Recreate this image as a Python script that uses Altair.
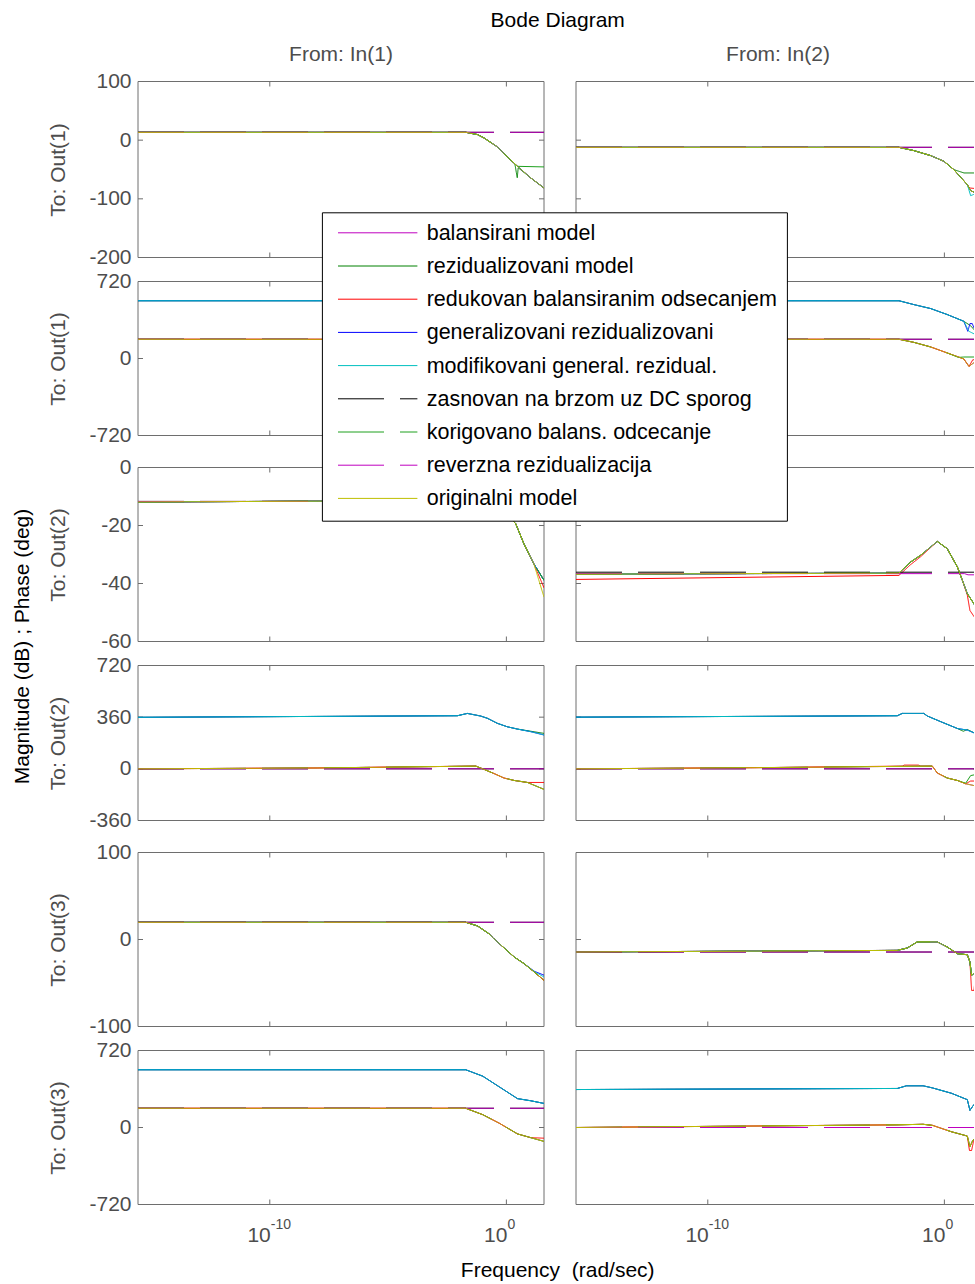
import altair as alt
import pandas as pd

FONT = "Liberation Sans"
GRAY = "#4D4D4D"
FRAME = "#6E6E6E"

NAMES = ["balansirani model", "rezidualizovani model", "redukovan balansiranim odsecanjem",
         "generalizovani rezidualizovani", "modifikovani general. rezidual.",
         "zasnovan na brzom uz DC sporog", "korigovano balans. odcecanje",
         "reverzna rezidualizacija", "originalni model"]
KEYS = ["BAL", "REZ", "RED", "GEN", "MOD", "ZAS", "KOR", "REV", "ORI"]
COLORS = ["#BF00BF", "#008000", "#FF0000", "#0000FF", "#00BFBF",
          "#000000", "#1FA01F", "#BF00BF", "#BFBF00"]
DASHES = [[1, 0]] * 5 + [[46, 16]] * 3 + [[1, 0]]

LW_MIN = -15.57
LW_MAX = 1.59
W1 = 406
W2 = 398
PX_DEC = W1 / (LW_MAX - LW_MIN)
LW_MAX2 = LW_MIN + W2 / PX_DEC

XT_W = [1e-10, 1.0]
XT_EXP = ["-10", "0"]

# ---- Out(1) magnitude ----
M11_ORI = [(-15.57, 13.4), (-1.71, 13.4), (-1.22, 9.5), (-0.95, 3.9), (-0.38, -11.5), (0.04, -28.6),
           (0.47, -44.6), (1.03, -64.4), (1.59, -81.5)]
M11_REZ = [(-15.57, 13.4), (-1.71, 13.4), (-1.22, 9.5), (-0.95, 3.9), (-0.38, -11.5), (0.04, -28.6),
           (0.36, -40.5), (0.42, -55.0), (0.46, -64.0), (0.50, -47.0), (1.03, -64.4), (1.59, -81.5)]
M11_KOR = [(-15.57, 13.4), (-1.71, 13.4), (-1.22, 9.5), (-0.95, 3.9), (-0.38, -11.5), (0.04, -28.6),
           (0.47, -44.6), (1.59, -45.6)]
M11_DC = 13.4

M12_ORI = [(-15.57, -12.2), (-1.92, -12.2), (-1.29, -17.8), (-0.58, -26.3), (-0.02, -36.0), (0.40, -50.2),
           (0.97, -75.9), (1.11, -86.0), (1.32, -90.0)]
M12_MOD = [(-15.57, -12.2), (-1.92, -12.2), (-1.29, -17.8), (-0.58, -26.3), (-0.02, -36.0), (0.40, -50.2),
           (0.97, -75.9), (1.11, -94.6), (1.32, -91.2)]
M12_REZ = [(-15.57, -12.2), (-1.92, -12.2), (-1.29, -17.8), (-0.58, -26.3), (-0.02, -36.0), (0.40, -50.2),
           (0.83, -55.9), (1.32, -55.9)]
M12_RED = [(-15.57, -12.2), (-1.92, -12.2), (-1.29, -17.8), (-0.58, -26.3), (-0.02, -36.0), (0.40, -50.2),
           (0.97, -75.9), (1.06, -81.5), (1.32, -82.5)]
M12_DC = -12.2

# ---- Out(1) phase ----
P21_LOW = [(-15.57, 180), (-1.71, 180), (-1.0, 140), (-0.3, 90), (0.4, 20), (1.0, -40), (1.59, -90)]
P21_UP = [(-15.57, 540), (-1.71, 540), (-1.0, 500), (-0.3, 450), (0.4, 380), (1.0, 320), (1.59, 270)]
P21_DC = 180

P22_LOW = [(-15.57, 180), (-1.92, 180), (-1.29, 151), (-0.58, 108), (0.12, 52), (0.82, -4), (1.04, -74), (1.32, -27)]
P22_UP = [(-15.57, 540), (-1.92, 540), (-1.29, 504), (-0.58, 467), (0.12, 411), (0.82, 348), (1.04, 254), (1.32, 223)]
P22_GEN = [(-15.57, 540), (-1.92, 540), (-1.29, 504), (-0.58, 467), (0.12, 411), (0.82, 348), (0.99, 254),
           (1.08, 326), (1.18, 326), (1.25, 286), (1.32, 270)]
P22_REZ = [(-15.57, 540), (-1.92, 540), (-1.29, 504), (-0.58, 467), (0.12, 411), (0.82, 348), (1.11, 306), (1.32, 254)]
P22_KOR = [(-15.57, 180), (-1.92, 180), (-1.29, 151), (-0.58, 108), (0.12, 52), (0.6, 10), (0.82, 14), (1.32, 14)]
P22_RED = [(-15.57, 180), (-1.92, 180), (-1.29, 151), (-0.58, 108), (0.12, 52), (0.82, -4), (1.04, -74),
           (1.20, -12), (1.32, -12)]
P22_DC = 180

# ---- Out(2) magnitude ----
M31_ORI = [(-15.57, -11.9), (-8.0, -11.6), (-1.5, -11.4), (-1.0, -12.0), (-0.3, -14.5), (0.1, -17.0),
           (0.39, -19.3), (0.74, -26.3), (1.16, -33.2), (1.59, -44.7)]
M31_BASE = [(-15.57, -11.9), (-8.0, -11.6), (-1.5, -11.4), (-1.0, -12.0), (-0.3, -14.5), (0.1, -17.0),
            (0.39, -19.3), (0.74, -26.3), (1.16, -33.2), (1.59, -38.9)]
M31_RED = [(-15.57, -11.9), (-8.0, -11.6), (-1.5, -11.4), (-1.0, -12.0), (-0.3, -14.5), (0.1, -17.0),
           (0.39, -19.3), (0.74, -26.3), (1.16, -33.2), (1.59, -41.5)]
M31_DC = -11.7

M32_ORI = [(-15.57, -36.8), (-1.92, -36.4), (-1.43, -32.6), (-1.01, -30.3), (-0.30, -25.5), (0.12, -28.0),
           (0.55, -34.3), (0.76, -38.9), (0.97, -43.5), (1.25, -47.0), (1.32, -48.0)]
M32_RED = [(-15.57, -38.6), (-1.92, -37.2), (-1.43, -33.5), (-1.01, -30.8), (-0.30, -25.5), (0.12, -28.0),
           (0.55, -34.3), (0.76, -38.9), (0.97, -44.0), (1.08, -49.3), (1.32, -52.2)]
M32_ZAS = [(-15.57, -36.1), (1.59, -36.1)]
M32_REV = [(-15.57, -36.6), (0.85, -36.6), (1.0, -37.0), (1.32, -37.0)]

# ---- Out(2) phase ----
P41_LOW = [(-15.57, 0), (-8.0, 6), (-1.9, 18), (-1.29, 19), (-0.94, -4), (-0.52, -33), (-0.10, -64),
           (0.33, -81), (0.89, -95), (1.59, -143)]
P41_UP = [(-15.57, 359), (-2.07, 370), (-1.65, 386), (-1.09, 368), (-0.80, 352), (-0.38, 317), (0.04, 293),
          (0.47, 277), (1.03, 259), (1.59, 236)]
P41_REZ = [(-15.57, 359), (-2.07, 370), (-1.65, 386), (-1.09, 368), (-0.80, 352), (-0.38, 317), (0.04, 293),
           (0.47, 277), (1.03, 262), (1.59, 247)]
P41_RED = [(-15.57, 0), (-8.0, 6), (-1.9, 18), (-1.29, 19), (-0.94, -4), (-0.52, -33), (-0.10, -64),
           (0.33, -81), (0.89, -95), (1.59, -95)]
P41_DC = 0

P42_LOW = [(-15.57, 0), (-8.0, 8), (-0.58, 19), (-0.51, 19), (-0.30, -29), (0.12, -64), (0.55, -81),
           (0.90, -104), (1.32, -119)]
P42_UP = [(-15.57, 360), (-1.99, 370), (-1.78, 386), (-0.87, 386), (-0.72, 368), (-0.16, 329), (0.55, 281),
          (0.97, 270), (1.32, 246)]
P42_REZ = [(-15.57, 360), (-1.99, 370), (-1.78, 386), (-0.87, 386), (-0.72, 368), (-0.16, 329), (0.55, 281),
           (0.80, 262), (0.97, 274), (1.32, 246)]
P42_RED = [(-15.57, 0), (-8.0, 8), (-1.78, 19), (-1.70, 26), (-1.10, 26), (-1.0, 19), (-0.51, 19), (-0.30, -29),
           (0.12, -64), (0.55, -81), (0.90, -104), (1.11, -85), (1.32, -85)]
P42_KOR = [(-15.57, 0), (-8.0, 8), (-0.58, 19), (-0.51, 19), (-0.30, -29), (0.12, -64), (0.55, -81),
           (0.90, -100), (1.11, -47), (1.32, -40)]
P42_REV = [(-15.57, 0), (1.20, 0), (1.32, -10)]
P42_DC = 0

# ---- Out(3) magnitude ----
M51_ORI = [(-15.57, 19.8), (-1.72, 19.8), (-1.22, 15.6), (-0.74, 6.7), (-0.38, -2.8), (0.33, -20.1),
           (0.75, -27.8), (1.18, -37.4), (1.59, -47.0)]
M51_GEN = [(-15.57, 19.8), (-1.72, 19.8), (-1.22, 15.6), (-0.74, 6.7), (-0.38, -2.8), (0.33, -20.1),
           (0.75, -27.8), (1.18, -36.5), (1.59, -41.0)]
M51_MOD = [(-15.57, 19.8), (-1.72, 19.8), (-1.22, 15.6), (-0.74, 6.7), (-0.38, -2.8), (0.33, -20.1),
           (0.75, -27.8), (1.18, -37.0), (1.59, -43.0)]
M51_DC = 19.8

M52_ORI = [(-15.57, -14.4), (-1.99, -12.5), (-1.57, -9.8), (-1.15, -2.8), (-0.30, -2.8), (0.12, -8.6),
           (0.55, -16.3), (0.97, -17.5), (1.08, -25.9), (1.15, -41.3), (1.32, -37.4)]
M52_RED = [(-15.57, -14.4), (-1.99, -12.5), (-1.57, -9.8), (-1.15, -2.8), (-0.30, -2.8), (0.12, -8.6),
           (0.55, -16.3), (0.97, -17.5), (1.08, -25.9), (1.15, -58.5), (1.25, -58.5), (1.32, -40.0)]
M52_DC = -14.4

# ---- Out(3) phase ----
P61_LOW = [(-15.57, 180), (-1.72, 180), (-1.0, 120), (-0.3, 40), (0.47, -60), (1.03, -95), (1.59, -130)]
P61_UP = [(-15.57, 540), (-1.72, 540), (-1.0, 480), (-0.3, 380), (0.47, 270), (1.03, 250), (1.59, 225)]
P61_RED = [(-15.57, 180), (-1.72, 180), (-1.0, 120), (-0.3, 40), (0.47, -60), (1.03, -95), (1.59, -100)]
P61_DC = 180

P62_LOW = [(-15.57, 0), (-2.0, 25), (-0.9, 30), (-0.5, 20), (0.3, -40), (0.97, -80), (1.08, -180),
           (1.2, -120), (1.32, -100)]
P62_UP = [(-15.57, 355), (-1.99, 365), (-1.6, 390), (-0.9, 390), (-0.5, 370), (0.3, 320), (0.97, 260),
          (1.08, 160), (1.2, 200), (1.32, 230)]
P62_RED = [(-15.57, 0), (-2.0, 25), (-0.9, 30), (-0.5, 20), (0.3, -40), (0.97, -80), (1.06, -215),
           (1.15, -215), (1.25, -110), (1.32, -100)]
P62_DC = 0


def series_map(low, up, dc, **over):
    flat = [(LW_MIN, dc), (LW_MAX, dc)]
    m = {"BAL": low, "REZ": up, "RED": low, "GEN": up, "MOD": up,
         "ZAS": flat, "KOR": low, "REV": flat, "ORI": low}
    m.update(over)
    return m


def curves_df(m):
    rows = []
    for name, key in zip(NAMES, KEYS):
        for lw, v in m[key]:
            rows.append({"name": name, "w": 10 ** lw, "v": v})
    return pd.DataFrame(rows)


CSCALE = alt.Scale(domain=NAMES, range=COLORS)
DSCALE = alt.Scale(domain=NAMES, range=DASHES)
ONE = pd.DataFrame({"a": [0]})


def txt(s, x, y, size=21, color="black", angle=None, align="center"):
    kw = dict(text=s, fontSize=size, font=FONT, color=color, align=align, baseline="middle")
    if angle is not None:
        kw["angle"] = angle
    return alt.Chart(ONE).mark_text(**kw).encode(x=alt.value(x), y=alt.value(y))


def panel(m, ydom, yticks, H, col, ytitle=None, bottom=False, top=0, extra=()):
    W = W1 if col == 1 else W2
    xmax = LW_MAX if col == 1 else LW_MAX2
    xs = alt.Scale(type="log", domain=[10 ** LW_MIN, 10 ** xmax], nice=False)
    ys = alt.Scale(domain=ydom, nice=False, zero=False, range=[top + H, top])
    if col == 1:
        yaxis = alt.Axis(values=yticks, labelFontSize=21, labelFont=FONT, labelColor=GRAY,
                         labelExpr="'' + datum.value",
                         ticks=False, domain=False, grid=False, labelPadding=7, labelOverlap=False,
                         title=ytitle, titleFont=FONT, titleFontSize=21, titleColor=GRAY,
                         titleFontWeight="normal", titleX=-80, titleY=top + H / 2, titleAngle=270,
                         titleBaseline="middle", titleAlign="center")
    else:
        yaxis = None
    X = alt.X("w:Q", scale=xs, axis=None)
    Y = alt.Y("v:Q", scale=ys, axis=yaxis)
    y0, y1 = top, top + H

    layers = []
    # frame
    layers.append(alt.Chart(ONE).mark_rule(color=FRAME).encode(x=alt.value(0), x2=alt.value(W), y=alt.value(y0)))
    layers.append(alt.Chart(ONE).mark_rule(color=FRAME).encode(x=alt.value(0), x2=alt.value(W), y=alt.value(y1)))
    layers.append(alt.Chart(ONE).mark_rule(color=FRAME).encode(x=alt.value(0), y=alt.value(y0), y2=alt.value(y1)))
    if col == 1:
        layers.append(alt.Chart(ONE).mark_rule(color=FRAME).encode(x=alt.value(W), y=alt.value(y0), y2=alt.value(y1)))
    # ticks
    yt = pd.DataFrame({"v": yticks})
    layers.append(alt.Chart(yt).mark_rule(color=FRAME).encode(y=Y, x=alt.value(0), x2=alt.value(5)))
    if col == 1:
        layers.append(alt.Chart(yt).mark_rule(color=FRAME).encode(y=Y, x=alt.value(W - 5), x2=alt.value(W)))
    xt = pd.DataFrame({"w": XT_W, "e": XT_EXP})
    layers.append(alt.Chart(xt).mark_rule(color=FRAME).encode(x=X, y=alt.value(y0), y2=alt.value(y0 + 5)))
    layers.append(alt.Chart(xt).mark_rule(color=FRAME).encode(x=X, y=alt.value(y1 - 5), y2=alt.value(y1)))
    # curves
    df = curves_df(m)
    layers.append(alt.Chart(df).mark_line(clip=True, strokeWidth=1).encode(
        x=X, y=Y,
        color=alt.Color("name:N", scale=CSCALE, legend=None),
        strokeDash=alt.StrokeDash("name:N", scale=DSCALE, legend=None)))
    if bottom:
        layers.append(alt.Chart(xt).mark_text(text="10", fontSize=21, font=FONT, color=GRAY, align="right",
                                              baseline="middle", dx=1).encode(x=X, y=alt.value(y1 + 31)))
        layers.append(alt.Chart(xt).mark_text(fontSize=14, font=FONT, color=GRAY, align="left",
                                              baseline="middle", dx=1).encode(x=X, y=alt.value(y1 + 20), text="e:N"))
    layers.extend(extra)
    return alt.layer(*layers).properties(width=W, height=top + H)


# legend drawn on top, inside panel Out(2)/In(2) magnitude (view origin 8 px above its frame)
LEG = pd.DataFrame({"name": NAMES, "i": list(range(len(NAMES)))})
legend_layers = [
    alt.Chart(ONE).mark_rect(fill="white", stroke="black", strokeWidth=1).encode(
        x=alt.value(-253.6), x2=alt.value(211.4), y=alt.value(-246.7), y2=alt.value(61.7)),
    alt.Chart(LEG).transform_calculate(ly="-226.7 + datum.i * 33.2").mark_rule(strokeWidth=1).encode(
        x=alt.value(-238), x2=alt.value(-158.6),
        y=alt.Y("ly:Q", scale=None, axis=None),
        color=alt.Color("name:N", scale=CSCALE, legend=None),
        strokeDash=alt.StrokeDash("name:N", scale=DSCALE, legend=None)),
    alt.Chart(LEG).transform_calculate(ly="-225.7 + datum.i * 33.2").mark_text(
        fontSize=21.5, font=FONT, color="black", align="left", baseline="middle").encode(
        x=alt.value(-149.3), y=alt.Y("ly:Q", scale=None, axis=None), text="name:N"),
]

H_MAG = 174
H_PH = 154
GAP = 8

p11 = panel(series_map(M11_ORI, M11_ORI, M11_DC, REZ=M11_REZ, KOR=M11_KOR), [-200, 100], [100, 0, -100, -200],
            176, 1, "To: Out(1)",
            extra=[txt("Bode Diagram", 419.7, -61), txt("From: In(1)", W1 / 2, -27, color=GRAY)])
p12 = panel(series_map(M12_ORI, M12_ORI, M12_DC, MOD=M12_MOD, REZ=M12_REZ, RED=M12_RED), [-200, 100],
            [100, 0, -100, -200], 176, 2, extra=[txt("From: In(2)", 202, -27, color=GRAY)])
p21 = panel(series_map(P21_LOW, P21_UP, P21_DC), [-720, 720], [720, 0, -720], H_PH, 1, "To: Out(1)")
p22 = panel(series_map(P22_LOW, P22_UP, P22_DC, GEN=P22_GEN, REZ=P22_REZ, KOR=P22_KOR, RED=P22_RED),
            [-720, 720], [720, 0, -720], H_PH, 2)
p31 = panel(series_map(M31_BASE, M31_BASE, M31_DC, ORI=M31_ORI, RED=M31_RED), [-60, 0], [0, -20, -40, -60],
            H_MAG, 1, "To: Out(2)", top=GAP,
            extra=[txt("Magnitude (dB) ; Phase (deg)", -115.3, 187, angle=270)])
p32 = panel(series_map(M32_ORI, M32_ORI, -36.1, RED=M32_RED, ZAS=M32_ZAS, REV=M32_REV), [-60, 0],
            [0, -20, -40, -60], H_MAG, 2, top=GAP, extra=legend_layers)
p41 = panel(series_map(P41_LOW, P41_UP, P41_DC, REZ=P41_REZ, RED=P41_RED), [-360, 720], [720, 360, 0, -360],
            155, 1, "To: Out(2)")
p42 = panel(series_map(P42_LOW, P42_UP, P42_DC, REZ=P42_REZ, RED=P42_RED, KOR=P42_KOR, REV=P42_REV),
            [-360, 720], [720, 360, 0, -360], 155, 2)
p51 = panel(series_map(M51_ORI, M51_ORI, M51_DC, GEN=M51_GEN, MOD=M51_MOD), [-100, 100], [100, 0, -100],
            H_MAG, 1, "To: Out(3)", top=GAP)
p52 = panel(series_map(M52_ORI, M52_ORI, M52_DC, RED=M52_RED), [-100, 100], [100, 0, -100], H_MAG, 2, top=GAP)
p61 = panel(series_map(P61_LOW, P61_UP, P61_DC, RED=P61_RED), [-720, 720], [720, 0, -720], H_PH, 1,
            "To: Out(3)", bottom=True,
            extra=[txt("Frequency\u00a0 (rad/sec)", 419.7, 220)])
p62 = panel(series_map(P62_LOW, P62_UP, P62_DC, RED=P62_RED), [-720, 720], [720, 0, -720], H_PH, 2, bottom=True)

chart = alt.concat(
    p11, p12, p21, p22, p31, p32, p41, p42, p51, p52, p61, p62,
    columns=2, spacing={"row": 24, "column": 32}, bounds="flush", align="each"
).properties(
    padding={"left": 11, "top": 8.5, "right": 0, "bottom": 0}
).configure_view(stroke="transparent")

chart.save("out.html", embed_options={"renderer": "svg", "actions": False})
